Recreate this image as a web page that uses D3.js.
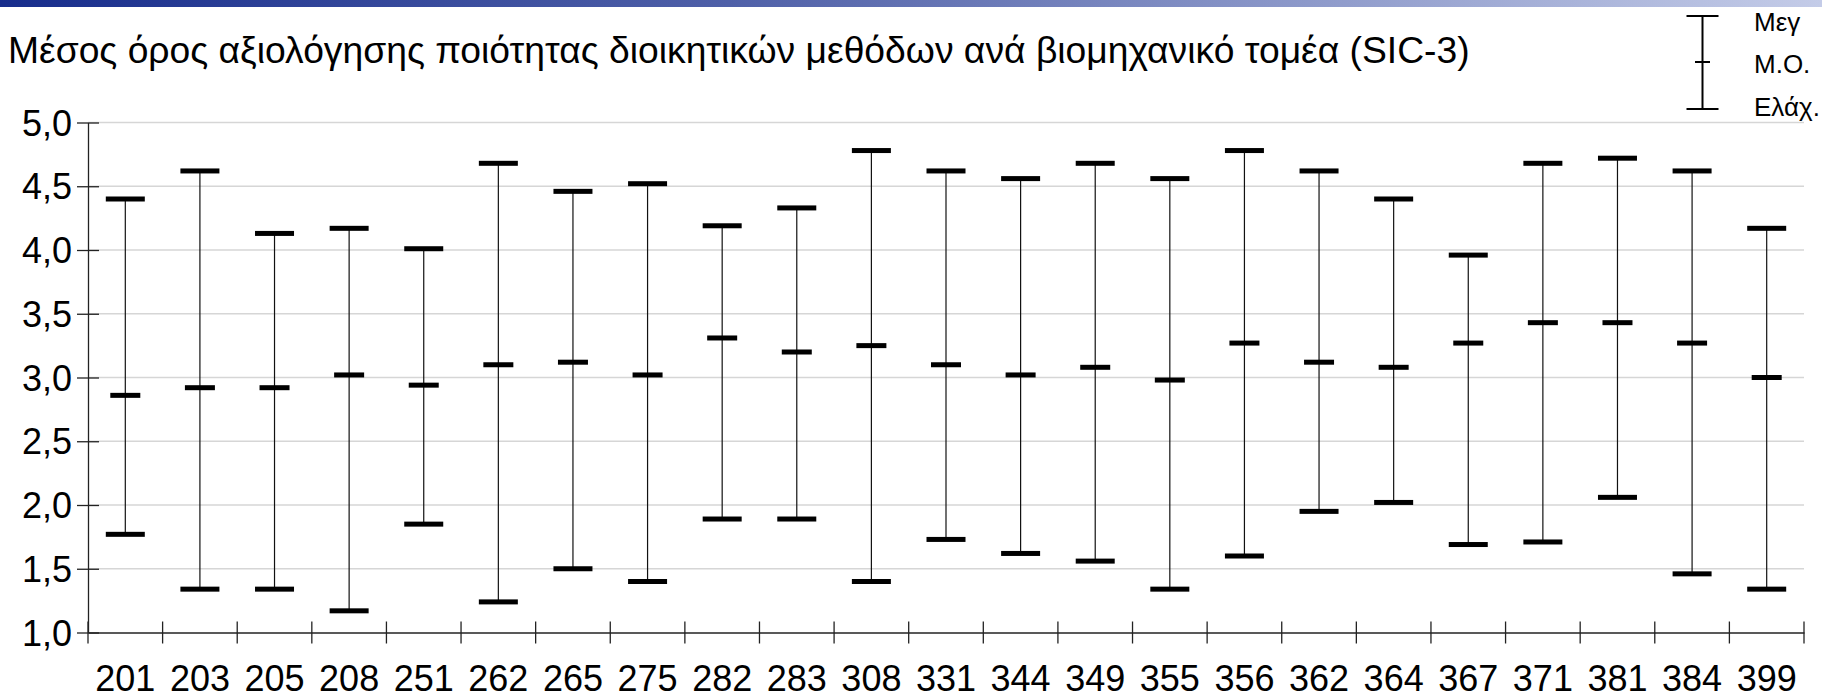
<!DOCTYPE html>
<html>
<head>
<meta charset="utf-8">
<script src="https://cdn.jsdelivr.net/npm/d3@7"></script>
<style>
  html, body { margin: 0; padding: 0; background: #fff; }
  svg { display: block; }
  text { font-family: "Liberation Sans", Arial, sans-serif; fill: #000; }
</style>
</head>
<body>
<svg id="chart" width="1822" height="698"></svg>
<script>
const title = "Μέσος όρος αξιολόγησης ποιότητας διοικητικών μεθόδων ανά βιομηχανικό τομέα (SIC-3)";
const categories = ["201","203","205","208","251","262","265","275","282","283","308","331","344","349","355","356","362","364","367","371","381","384","399"];
const maxValues  = [4.40,4.62,4.13,4.17,4.01,4.68,4.46,4.52,4.19,4.33,4.78,4.62,4.56,4.68,4.56,4.78,4.62,4.40,3.96,4.68,4.72,4.62,4.17];
const meanValues = [2.86,2.92,2.92,3.02,2.94,3.10,3.12,3.02,3.31,3.20,3.25,3.10,3.02,3.08,2.98,3.27,3.12,3.08,3.27,3.43,3.43,3.27,3.00];
const minValues  = [1.77,1.34,1.34,1.17,1.85,1.24,1.50,1.40,1.89,1.89,1.40,1.73,1.62,1.56,1.34,1.60,1.95,2.02,1.69,1.71,2.06,1.46,1.34];
const yTickValues = [1.0,1.5,2.0,2.5,3.0,3.5,4.0,4.5,5.0];
const yTickLabels = ["1,0","1,5","2,0","2,5","3,0","3,5","4,0","4,5","5,0"];
const legendLabels = ["Μεγ","Μ.Ο.","Ελάχ."];

(function () {
const W = 1822, H = 698;
const svg = d3.select("#chart");

// top gradient bar
const defs = svg.append("defs");
const grad = defs.append("linearGradient").attr("id","topbar").attr("x1","0").attr("x2","1").attr("y1","0").attr("y2","0");
grad.append("stop").attr("offset","0").attr("stop-color","#172d8c");
grad.append("stop").attr("offset","0.4").attr("stop-color","#4f60a8");
grad.append("stop").attr("offset","1").attr("stop-color","#c4cce8");
svg.append("rect").attr("x",0).attr("y",0).attr("width",W).attr("height",7).attr("fill","url(#topbar)");

// title
const t = svg.append("text").attr("x",8).attr("y",63).attr("font-size",40).text(title);
const targetW = 1462;
const curW = t.node().getComputedTextLength();
t.attr("font-size", 40 * targetW / curW);

const pLeft = 88, pRight = 1804, pTop = 122.5, pBottom = 632.5;
const x = d3.scaleBand().domain(categories).range([pLeft, pRight]).padding(0);
const y = d3.scaleLinear().domain([1, 5]).range([pBottom, pTop]);

// gridlines
svg.append("g").selectAll("line").data(yTickValues.slice(1)).join("line")
  .attr("x1", pLeft).attr("x2", pRight)
  .attr("y1", d => y(d)).attr("y2", d => y(d))
  .attr("stroke", "#d6d6d6").attr("stroke-width", 1.5);

// y axis
const yAxis = d3.axisLeft(y).tickValues(yTickValues)
  .tickFormat((d,i) => yTickLabels[i]).tickSizeInner(11).tickSizeOuter(0).tickPadding(15);
const gy = svg.append("g").attr("transform", `translate(${pLeft},0)`).call(yAxis);
gy.select(".domain").attr("stroke","#222").attr("stroke-width",1.3);
gy.selectAll(".tick line").attr("x2", 11).attr("x1", -11).attr("stroke","#222").attr("stroke-width",1.3);
gy.selectAll(".tick text").attr("font-size", 36).attr("font-family", "Liberation Sans, Arial, sans-serif").attr("fill","#000").attr("x", -16).attr("dy","0.35em");

// x axis
const xAxis = d3.axisBottom(x).tickSize(0).tickSizeOuter(0).tickPadding(0);
const gx = svg.append("g").attr("transform", `translate(0,${pBottom})`).call(xAxis);
gx.select(".domain").attr("stroke","#222").attr("stroke-width",1.3);
gx.selectAll(".tick text").attr("font-size", 36).attr("font-family", "Liberation Sans, Arial, sans-serif").attr("fill","#000").attr("dy", null).attr("y", 58);
// x separator ticks at band boundaries
const boundaries = categories.map(c => x(c)).concat([x(categories[categories.length-1]) + x.bandwidth()]);
gx.append("g").selectAll("line").data(boundaries).join("line")
  .attr("x1", d => d).attr("x2", d => d).attr("y1", -11).attr("y2", 11)
  .attr("stroke","#222").attr("stroke-width",1.3);

// error bars
const data = categories.map((c,i) => ({c, max: maxValues[i], mean: meanValues[i], min: minValues[i]}));
const cx = d => x(d.c) + x.bandwidth()/2;
const g = svg.append("g");
g.selectAll("line.whisker").data(data).join("line").attr("class","whisker")
  .attr("x1", cx).attr("x2", cx).attr("y1", d => y(d.max)).attr("y2", d => y(d.min))
  .attr("stroke","#111").attr("stroke-width",1.2);
const capW = 39, meanW = 30, capT = 5;
g.selectAll("rect.max").data(data).join("rect").attr("class","max")
  .attr("x", d => cx(d) - capW/2).attr("width", capW)
  .attr("y", d => y(d.max) - capT/2).attr("height", capT).attr("fill","#000");
g.selectAll("rect.min").data(data).join("rect").attr("class","min")
  .attr("x", d => cx(d) - capW/2).attr("width", capW)
  .attr("y", d => y(d.min) - capT/2).attr("height", capT).attr("fill","#000");
g.selectAll("rect.mean").data(data).join("rect").attr("class","mean")
  .attr("x", d => cx(d) - meanW/2).attr("width", meanW)
  .attr("y", d => y(d.mean) - capT/2).attr("height", capT).attr("fill","#000");

// legend
const lg = svg.append("g");
const lx = 1702.5, lTop = 16, lMid = 62, lBot = 109;
lg.append("line").attr("x1",lx).attr("x2",lx).attr("y1",lTop).attr("y2",lBot).attr("stroke","#000").attr("stroke-width",2);
lg.append("line").attr("x1",lx-16).attr("x2",lx+16).attr("y1",lTop).attr("y2",lTop).attr("stroke","#000").attr("stroke-width",2);
lg.append("line").attr("x1",lx-16).attr("x2",lx+16).attr("y1",lBot).attr("y2",lBot).attr("stroke","#000").attr("stroke-width",2);
lg.append("line").attr("x1",lx-7.5).attr("x2",lx+7.5).attr("y1",lMid).attr("y2",lMid).attr("stroke","#000").attr("stroke-width",2);
const lBase = [31, 73, 116];
lg.selectAll("text").data(legendLabels).join("text")
  .attr("x", 1754).attr("y", (d,i) => lBase[i]).attr("font-size", 26).text(d => d);
})();
</script>
</body>
</html>
